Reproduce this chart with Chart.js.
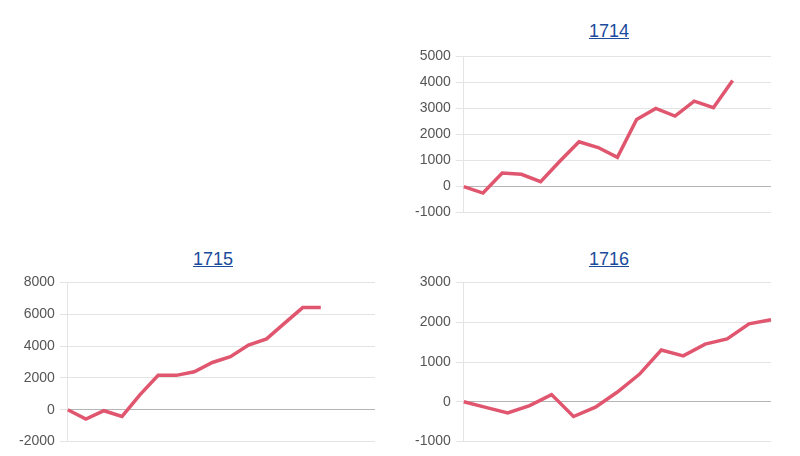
<!DOCTYPE html>
<html>
<head>
<meta charset="utf-8">
<script src="https://cdn.jsdelivr.net/npm/chart.js@4"></script>
<style>
  html, body { margin: 0; padding: 0; background: #fff; }
  body { width: 800px; height: 456px; position: relative; overflow: hidden; font-family: "Liberation Sans", Arial, sans-serif; }
  .title { position: absolute; font-size: 18px; color: #1a4b9c; text-decoration: underline; text-align: center; width: 100px; }
  .box { position: absolute; }
  .box canvas { display: block; }
</style>
</head>
<body>
<a class="title" style="left:559px; top:21px;">1714</a>
<a class="title" style="left:163px; top:249px;">1715</a>
<a class="title" style="left:559px; top:249px;">1716</a>
<div class="box" id="b1" style="left:410px; top:43px; width:367px; height:183px;"><canvas id="c1"></canvas></div>
<div class="box" id="b2" style="left:14px; top:269px; width:367px; height:186px;"><canvas id="c2"></canvas></div>
<div class="box" id="b3" style="left:410px; top:269px; width:367px; height:186px;"><canvas id="c3"></canvas></div>
<script>
// Labels (x axis ticks are hidden in the reference)
const labels1714 = ["1","2","3","4","5","6","7","8","9","10","11","12","13","14","15","16","17"];
const labels1715 = ["1","2","3","4","5","6","7","8","9","10","11","12","13","14","15","16","17","18"];
const labels1716 = ["1","2","3","4","5","6","7","8","9","10","11","12","13","14","15"];

const values1714 = [0, -250, 520, 470, 190, 970, 1720, 1500, 1120, 2580, 3000, 2710, 3280, 3030, 4070, null, null];
const values1715 = [0, -590, -60, -420, 950, 2160, 2160, 2390, 2970, 3330, 4070, 4450, 5440, 6420, 6420, null, null, null];
const values1716 = [0, -140, -280, -95, 180, -370, -135, 245, 690, 1300, 1155, 1450, 1580, 1960, 2060];

const ticks1714 = {min: -1000, max: 5000, step: 1000};
const ticks1715 = {min: -2000, max: 8000, step: 2000};
const ticks1716 = {min: -1000, max: 3000, step: 1000};

function makeChart(id, labels, values, t) {
  new Chart(document.getElementById(id), {
    type: 'line',
    data: {
      labels: labels,
      datasets: [{
        data: values,
        borderColor: '#e0566f',
        backgroundColor: '#e0566f',
        borderWidth: 3.5,
        pointRadius: 0,
        tension: 0,
        fill: false
      }]
    },
    options: {
      responsive: true,
      maintainAspectRatio: false,
      animation: false,
      layout: { padding: { right: 6, top: 0, bottom: 0, left: 0 } },
      plugins: { legend: { display: false }, tooltip: { enabled: false } },
      scales: {
        x: { display: false },
        y: {
          min: t.min, max: t.max,
          ticks: { stepSize: t.step, color: '#555', font: { family: 'Liberation Sans', size: 14 }, padding: 5,
                   callback: (v) => String(v) },
          grid: {
            color: (c) => (c.tick && c.tick.value === 0) ? '#b5b5b5' : '#e4e4e4',
            tickColor: '#e4e4e4',
            tickLength: 8
          },
          border: { color: '#e4e4e4' }
        }
      }
    }
  });
}
makeChart('c1', labels1714, values1714, ticks1714);
makeChart('c2', labels1715, values1715, ticks1715);
makeChart('c3', labels1716, values1716, ticks1716);
</script>
</body>
</html>
